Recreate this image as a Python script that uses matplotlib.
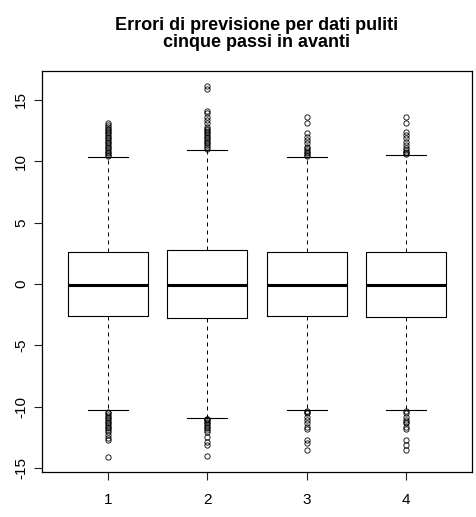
import matplotlib
matplotlib.use("Agg")
from matplotlib import pyplot as plt

plt.rcParams["font.family"] = ["Liberation Sans", "DejaVu Sans"]

# five-steps-ahead forecast errors, one box per model
labels = ["1", "2", "3", "4"]
medians = [-0.05, -0.05, -0.05, -0.05]
q1 = [-2.58, -2.74, -2.58, -2.66]
q3 = [2.58, 2.74, 2.58, 2.58]
whis_lo = [-10.24, -10.89, -10.24, -10.24]
whis_hi = [10.34, 10.91, 10.34, 10.50]

fliers_hi = [
    [10.45, 10.55, 10.64, 10.75, 10.91, 11.05, 11.18, 11.32, 11.46, 11.6,
     11.73, 11.86, 12.0, 12.14, 12.27, 12.4, 12.54, 12.65, 12.76, 12.95, 13.1],
    [11.0, 11.18, 11.3, 11.46, 11.6, 11.73, 11.86, 12.0, 12.14, 12.27, 12.4,
     12.54, 12.65, 12.8, 13.1, 13.35, 13.6, 13.9, 14.1, 15.9, 16.15],
    [10.45, 10.55, 10.64, 10.75, 10.91, 11.05, 11.18, 11.46, 11.73, 12.0,
     12.32, 13.08, 13.57],
    [10.6, 10.64, 10.75, 10.91, 11.05, 11.32, 11.59, 11.86, 12.13, 12.4,
     13.08, 13.57],
]
fliers_lo = [
    [-10.4, -10.5, -10.67, -10.8, -10.94, -11.07, -11.2, -11.34, -11.48,
     -11.62, -11.75, -11.9, -12.03, -12.3, -12.57, -12.7, -14.06],
    [-10.95, -11.02, -11.1, -11.2, -11.3, -11.48, -11.6, -11.75, -11.9,
     -12.03, -12.43, -12.84, -13.11, -13.98],
    [-10.3, -10.4, -10.53, -10.8, -11.07, -11.34, -11.62, -11.83, -12.7,
     -12.97, -13.52],
    [-10.3, -10.53, -10.8, -11.07, -11.2, -11.34, -11.62, -11.83, -12.7,
     -13.11, -13.52],
]

stats = []
for i, lab in enumerate(labels):
    stats.append({
        "label": lab,
        "med": medians[i],
        "q1": q1[i],
        "q3": q3[i],
        "whislo": whis_lo[i],
        "whishi": whis_hi[i],
        "fliers": fliers_lo[i] + fliers_hi[i],
    })

fig = plt.figure(figsize=(4.77, 5.17), dpi=100)
ax = fig.add_axes([42 / 477, 1 - 472 / 517, 430 / 477, 401 / 517])

ax.bxp(
    stats,
    positions=[1, 2, 3, 4],
    widths=0.8,
    showfliers=True,
    boxprops=dict(color="black", linewidth=0.8),
    medianprops=dict(color="black", linewidth=2.2, solid_capstyle="butt"),
    whiskerprops=dict(color="black", linewidth=0.72, linestyle=(0, (4, 4))),
    capprops=dict(color="black", linewidth=0.8),
    flierprops=dict(marker="o", markersize=3.8, markerfacecolor="none",
                    markeredgecolor="black", markeredgewidth=0.6),
    capwidths=0.4,
)

ax.set_xlim(0.34, 4.66)
ax.set_ylim(-15.3, 17.35)
ax.set_xticks([1, 2, 3, 4])
ax.set_xticklabels(labels)
ax.set_yticks([-15, -10, -5, 0, 5, 10, 15])
ax.set_yticklabels(["-15", "-10", "-5", "0", "5", "10", "15"],
                   rotation=90, va="center")
ax.tick_params(axis="both", direction="out", length=6, width=0.8,
               labelsize=11, colors="#222222", labelcolor="black")
ax.tick_params(axis="x", pad=9)
ax.tick_params(axis="y", pad=4)
for sp in ax.spines.values():
    sp.set_linewidth(0.9)

ax.set_title("Errori di previsione per dati puliti\ncinque passi in avanti",
             fontsize=13, fontweight="bold", pad=17, linespacing=1.05)

fig.savefig("out.png", dpi=100)
